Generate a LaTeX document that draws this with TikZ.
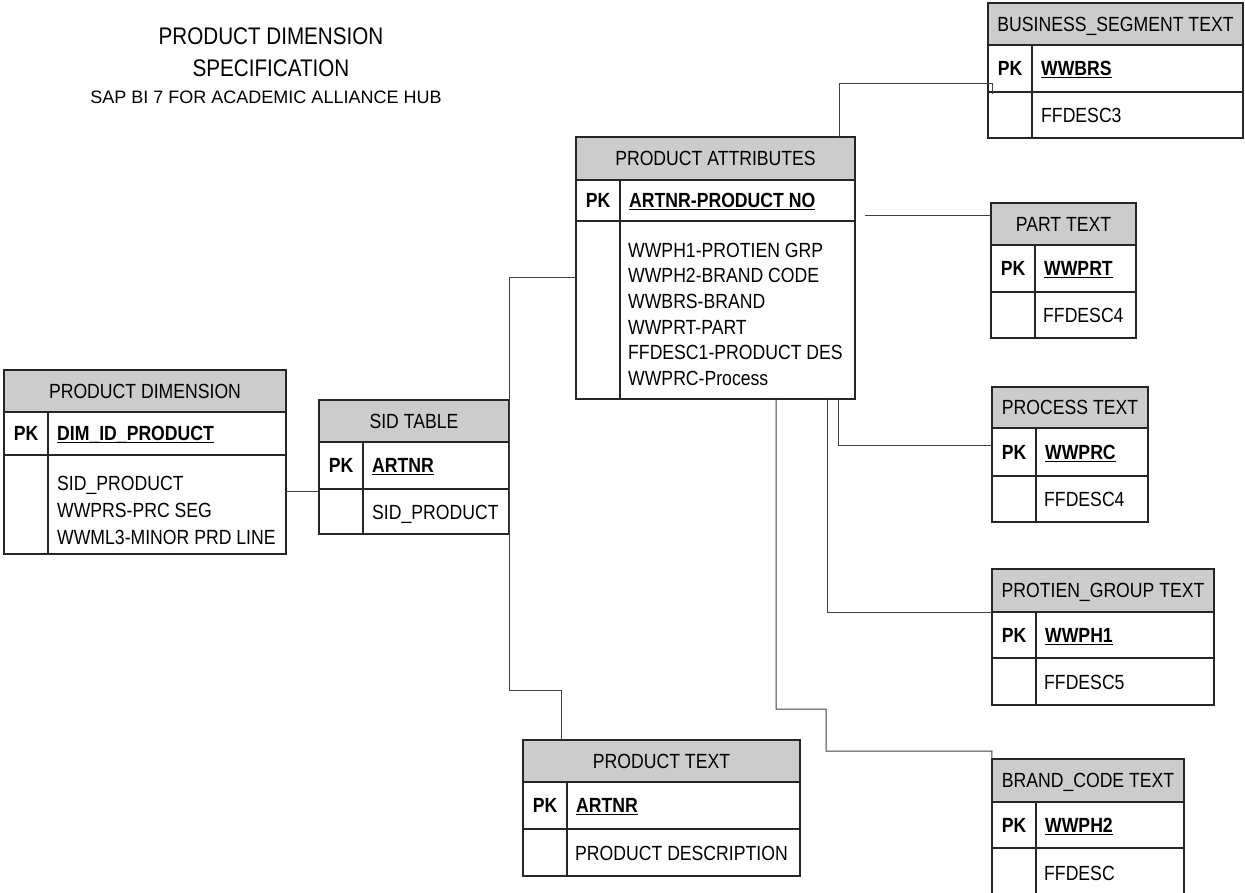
\documentclass[tikz,border=0pt]{standalone}
\usepackage{fontspec}
\setmainfont{Liberation Sans}
\newfontfamily\erfont[FakeStretch=0.86]{Liberation Sans}
\usetikzlibrary{fit}
\newcommand\keyul[1]{\setbox0=\hbox{#1}\leavevmode\rlap{\rule[-2.6pt]{\wd0}{1.4pt}}\box0}
\tikzset{
  erline/.style={line width=1.5pt, draw=black!85},
  tfont/.style={font=\erfont\fontsize{20.5}{26}\selectfont},
  txt/.style={tfont, inner sep=0pt, text height=14.7pt, text depth=0pt},
  btxt/.style={txt, font=\erfont\fontsize{20.5}{26}\selectfont\bfseries},
  conn/.style={line width=1pt, draw=black!75},
  ttl/.style={inner sep=0pt, font=\erfont\fontsize{24}{28}\selectfont, text height=17.2pt, text depth=0pt},
  sttl/.style={inner sep=0pt, font=\fontsize{18}{22}\selectfont, text height=12.9pt, text depth=0pt},
}
% name x1 y1 x2 yh yp y2 title key
\newcommand\ertab[9]{%
  \fill[black!20] (#2,#3) rectangle (#4,#5);
  \draw[erline] (#2,#3) rectangle (#4,#7);
  \draw[erline] (#2,#5) -- (#4,#5);
  \draw[erline] (#2,#6) -- (#4,#6);
  \draw[erline] ({#2+44},#5) -- ({#2+44},#7);
  \node[fit={(#2,#3) (#4,#7)}, inner sep=0pt] (#1) {};
  \node[txt] (#1-title) at ({(#2+#4)/2},{(#3+#5)/2}) {#8};
  \node[btxt] (#1-pk) at ({#2+22},{(#5+#6)/2}) {PK};
  \node[btxt, anchor=west] (#1-key) at ({#2+53},{(#5+#6)/2}) {\keyul{#9}};
}
\begin{document}
\begin{tikzpicture}[x=1pt, y=-1pt]
\clip (0,0) rectangle (1245,893);
\fill[white] (0,0) rectangle (1245,893);

% title
\node[ttl] (t1) at (271,36) {PRODUCT DIMENSION};
\node[ttl] (t2) at (271,68) {SPECIFICATION};
\node[sttl] (t3) at (266,97) {SAP BI 7 FOR ACADEMIC ALLIANCE HUB};

% tables
\ertab{pd}{4}{370}{286}{412}{455}{554}{PRODUCT DIMENSION}{DIM\_ID\_PRODUCT}
\node[txt, anchor=base west, align=left, font=\erfont\fontsize{20.5}{27}\selectfont] (pd-body) at (57,544.4) {SID\_PRODUCT\\WWPRS-PRC SEG\\WWML3-MINOR PRD LINE};

\ertab{sid}{319}{400}{509}{442}{489}{534}{SID TABLE}{ARTNR}
\node[txt, anchor=west] (sid-body) at (372,512) {SID\_PRODUCT};

\ertab{pa}{576}{137}{855}{180}{221}{399}{PRODUCT ATTRIBUTES}{ARTNR-PRODUCT NO}
\node[txt, anchor=base west, align=left, font=\erfont\fontsize{20.5}{25.6}\selectfont] (pa-body) at (628,385.4) {WWPH1-PROTIEN GRP\\WWPH2-BRAND CODE\\WWBRS-BRAND\\WWPRT-PART\\FFDESC1-PRODUCT DES\\WWPRC-Process};

\ertab{bs}{988}{3}{1243}{45}{92}{138}{BUSINESS\_SEGMENT TEXT}{WWBRS}
\node[txt, anchor=west] (bs-body) at (1041,115) {FFDESC3};

\ertab{pt}{991}{203}{1136}{245}{292}{338}{PART TEXT}{WWPRT}
\node[txt, anchor=west] (pt-body) at (1043,315) {FFDESC4};

\ertab{pr}{992}{387}{1148}{428}{476}{522}{PROCESS TEXT}{WWPRC}
\node[txt, anchor=west] (pr-body) at (1044,499) {FFDESC4};

\ertab{pg}{992}{569}{1214}{612}{658}{705}{PROTIEN\_GROUP TEXT}{WWPH1}
\node[txt, anchor=west] (pg-body) at (1044,682) {FFDESC5};

\ertab{bc}{992}{759}{1184}{802}{848}{898}{BRAND\_CODE TEXT}{WWPH2}
\node[txt, anchor=west] (bc-body) at (1044,873) {FFDESC};

\ertab{ptx}{523}{740}{800}{782}{829}{876}{PRODUCT TEXT}{ARTNR}
\node[txt, anchor=west] (ptx-body) at (575,853) {PRODUCT DESCRIPTION};

% connectors
\coordinate (bsend) at (992,94);
\coordinate (ptstart) at (865,216);
\draw[conn] (pd.east |- 0,491) -- (sid.west |- 0,491);
\draw[conn] (pa.west |- 0,278) -- (509,278) -- (509,690) -- (561,690) -- (ptx.north -| 561,0);
\draw[conn] (pa.north -| 839,0) -- (839,84) -- (992,84) -- (bsend);
\draw[conn] (ptstart) -- (pt.west |- ptstart);
\draw[conn] (pa.south -| 838,0) -- (838,445) -- (pr.west |- 0,445);
\draw[conn] (pa.south -| 827,0) -- (827,612) -- (pg.west |- 0,612);
\draw[conn] (pa.south -| 776,0) -- (776,709) -- (826,709) -- (826,751) -- (992,751) -- (bc.north west);
\end{tikzpicture}
\end{document}
